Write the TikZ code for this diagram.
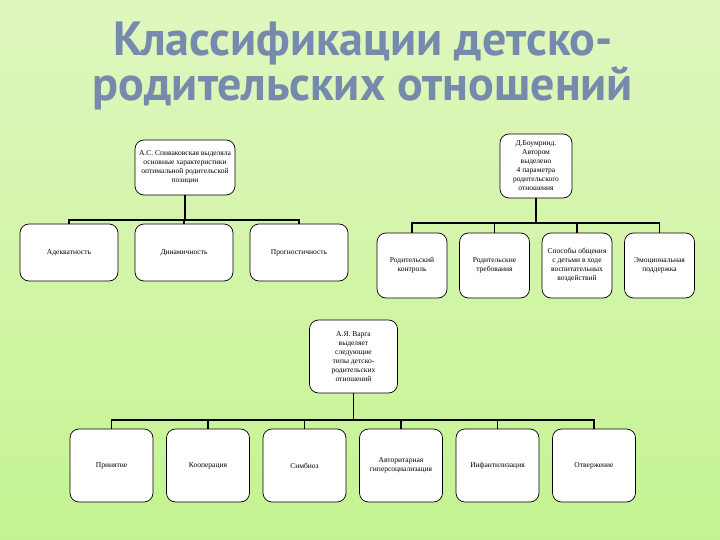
\documentclass[tikz,border=0pt]{standalone}
\usepackage{fontspec}
\setmainfont{Liberation Serif}
\newfontfamily\titlefont{PT Sans}
\usetikzlibrary{positioning}
\definecolor{bgtop}{RGB}{224,246,190}
\definecolor{bgbot}{RGB}{196,244,146}
\definecolor{titlec}{RGB}{118,138,174}
\begin{document}
\begin{tikzpicture}[x=1pt,y=-1pt,
 box/.style={draw,fill=white,rounded corners=9pt,align=center,inner sep=1pt,line width=0.7pt,font=\fontsize{7.5}{9}\selectfont},
 wide/.style={box,minimum width=98pt,minimum height=57pt},
 narrow/.style={box,minimum width=70pt,minimum height=65pt},
 low/.style={box,minimum width=83pt,minimum height=73pt},
 link/.style={line width=1.6pt},
 title/.style={align=center,font=\titlefont\bfseries\fontsize{48}{45}\selectfont}]
\shade[top color=bgtop,bottom color=bgbot](0,0) rectangle (720,540);
\useasboundingbox (0,0) rectangle (720,540);
\node[title,text=titlec](head) at (363,66){Классификации детско-\\родительских отношений};
% Спиваковская
\node[box,minimum width=100pt,minimum height=55pt](spiv) at (185,167.5){А.С. Спиваковская выделяла\\основные характеристики\\оптимальной родительской\\позиции};
\node[wide](ad) at (69,252.5){Адекватность};
\node[wide](din) at (184,252.5){Динамичность};
\node[wide](prog) at (299,252.5){Прогностичность};
\coordinate (bus1) at (0,220);
\draw[link](spiv.south)--(spiv.south|-bus1)-|(ad.north);\draw[link](spiv.south)--(spiv.south|-bus1)-|(din.north);\draw[link](spiv.south)--(spiv.south|-bus1)-|(prog.north);
% Боумринд
\node[box,minimum width=72pt,minimum height=64pt](baum) at (536,166){Д.Боумринд.\\Автором\\выделено\\4 параметра\\родительского\\отношения};
\node[narrow](kon) at (412,265.5){Родительский\\контроль};
\node[narrow](treb) at (494.5,265.5){Родительские\\требования};
\node[narrow](sposob) at (577,265.5){Способы общения\\с детьми в ходе\\воспитательных\\воздействий};
\node[narrow](emo) at (659.5,265.5){Эмоциональная\\поддержка};
\coordinate (bus2) at (0,223);
\draw[link](baum.south)--(baum.south|-bus2)-|(kon.north);\draw[link](baum.south)--(baum.south|-bus2)-|(treb.north);
\draw[link](baum.south)--(baum.south|-bus2)-|(sposob.north);\draw[link](baum.south)--(baum.south|-bus2)-|(emo.north);
% Варга
\node[box,minimum width=88pt,minimum height=73pt](varga) at (353.5,356.5){А.Я. Варга\\выделяет\\следующие\\типы детско-\\родительских\\отношений};
\node[low](prin) at (111.5,465.5){Принятие};
\node[low](koop) at (208,465.5){Кооперация};
\node[low](simb) at (304.5,465.5){Симбиоз};
\node[low](avt) at (401,465.5){Авторитарная\\гиперсоциализация};
\node[low](inf) at (497.5,465.5){Инфантилизация};
\node[low](otv) at (594,465.5){Отвержение};
\coordinate (bus3) at (0,420);
\draw[link](varga.south)--(varga.south|-bus3)-|(prin.north);\draw[link](varga.south)--(varga.south|-bus3)-|(koop.north);\draw[link](varga.south)--(varga.south|-bus3)-|(simb.north);
\draw[link](varga.south)--(varga.south|-bus3)-|(avt.north);\draw[link](varga.south)--(varga.south|-bus3)-|(inf.north);\draw[link](varga.south)--(varga.south|-bus3)-|(otv.north);
\end{tikzpicture}
\end{document}
